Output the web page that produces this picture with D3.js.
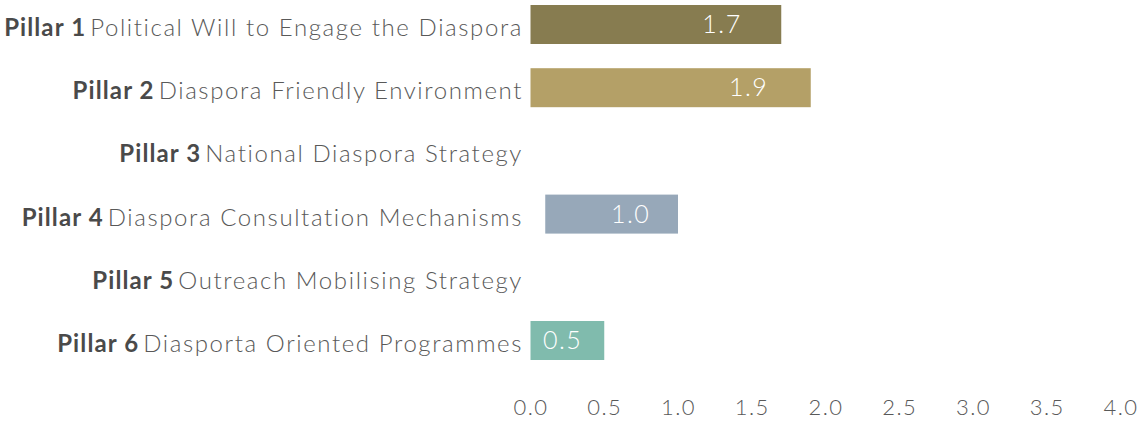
<!DOCTYPE html>
<html>
<head>
<meta charset="utf-8">
<script src="https://cdn.jsdelivr.net/npm/d3@7"></script>
<style>
  body { margin: 0; background: #fff; }
  text { font-family: Lato, "Open Sans", sans-serif; }
</style>
</head>
<body>
<div id="chart"></div>
<script>
// pillar names, split into the bold prefix and the rest
const pillars = ['Pillar 1', 'Pillar 2', 'Pillar 3', 'Pillar 4', 'Pillar 5', 'Pillar 6'];
const titles = [
    'Political Will to Engage the Diaspora',
    'Diaspora Friendly Environment',
    'National Diaspora Strategy',
    'Diaspora Consultation Mechanisms',
    'Outreach Mobilising Strategy',
    'Diasporta Oriented Programmes'
];
// null = no bar drawn
const values = [1.7, 1.9, null, 1.0, null, 0.5];
// bar 4 does not start at zero in the original
const starts = [0, 0, 0, 0.1, 0, 0];
const colors = ['#877c50', '#b4a067', '#ffffff', '#97a8b9', '#ffffff', '#80bbad'];
const ticks = [0, 0.5, 1, 1.5, 2, 2.5, 3, 3.5, 4];

const width = 1144, height = 423;

const svg = d3.select('#chart').append('svg')
    .attr('width', width)
    .attr('height', height);

const x = d3.scaleLinear()
    .domain([0, 4])
    .range([530.5, 1120.5]);

const y = d3.scaleBand()
    .domain(pillars)
    .range([-7.1, 372.1])
    .paddingInner(0.383)
    .paddingOuter(0.1915);

const rows = pillars.map((p, i) => ({
    pillar: p,
    title: titles[i],
    value: values[i],
    start: starts[i],
    color: colors[i]
}));

// Bars
svg.append('g').selectAll('rect')
    .data(rows.filter(d => d.value !== null))
    .enter().append('rect')
    .attr('x', d => x(d.start))
    .attr('y', d => y(d.pillar))
    .attr('width', d => x(d.value) - x(d.start))
    .attr('height', y.bandwidth())
    .attr('fill', d => d.color);

// Value labels, inside the bar near the end
svg.append('g').selectAll('text')
    .data(rows.filter(d => d.value !== null))
    .enter().append('text')
    .attr('x', d => {
        const w = x(d.value) - x(d.start);
        return x(d.value) - 14.5 - 0.1 * w;
    })
    .attr('y', d => y(d.pillar) + y.bandwidth() / 2 + 8.5)
    .attr('text-anchor', 'end')
    .attr('font-size', 25)
    .attr('font-weight', 300)
    .attr('letter-spacing', 1.5)
    .attr('fill', '#ffffff')
    .text(d => d3.format('.1f')(d.value));

// Category labels
const cat = svg.append('g').selectAll('text')
    .data(rows)
    .enter().append('text')
    .attr('x', 523)
    .attr('y', d => y(d.pillar) + y.bandwidth() / 2 + 11.5)
    .attr('text-anchor', 'end')
    .attr('font-size', 24)
    .attr('fill', '#595959');

cat.append('tspan')
    .attr('font-weight', 700)
    .attr('fill', '#4a4a4a')
    .attr('letter-spacing', 1.1)
    .text(d => d.pillar);

cat.append('tspan')
    .attr('font-weight', 300)
    .attr('dx', 4)
    .attr('letter-spacing', 1.6)
    .text(d => d.title);

// X axis, labels only
const axis = d3.axisBottom(x)
    .tickValues(ticks)
    .tickFormat(d3.format('.1f'))
    .tickSize(0)
    .tickPadding(0);

const ax = svg.append('g')
    .attr('transform', 'translate(0, 399)')
    .call(axis);

ax.select('.domain').remove();
ax.selectAll('text')
    .attr('font-size', 22)
    .attr('font-weight', 300)
    .attr('letter-spacing', 1.5)
    .attr('font-family', 'Lato, "Open Sans", sans-serif')
    .attr('fill', '#595959');
</script>
</body>
</html>
